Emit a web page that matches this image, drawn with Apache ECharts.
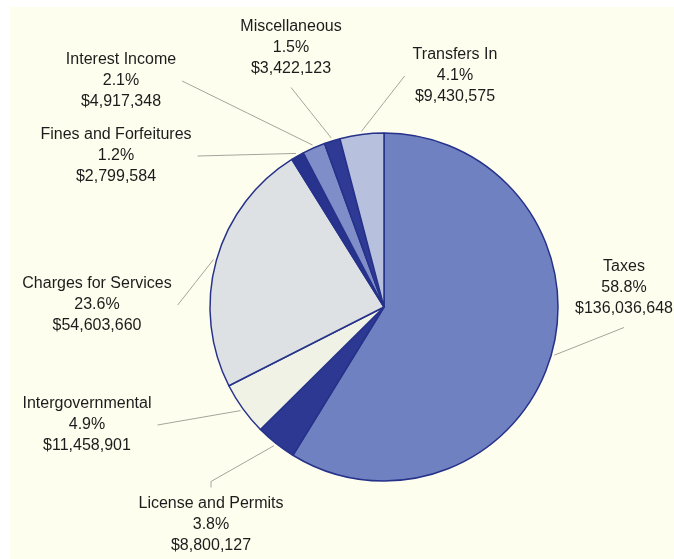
<!DOCTYPE html>
<html>
<head>
<meta charset="utf-8">
<script src="https://cdn.jsdelivr.net/npm/echarts@6/dist/echarts.min.js"></script>
<style>
  html, body { margin: 0; padding: 0; background: #ffffff; }
  #paper { position: absolute; left: 10px; top: 7px; width: 664px; height: 552px; background: #fefeef; }
  #chart { position: absolute; left: 0; top: 0; width: 674px; height: 559px; }
</style>
</head>
<body>
<div id="paper"></div>
<div id="chart"></div>
<script>
// revenue sources, clockwise from 12 o'clock
var categories = ["Taxes", "License and Permits", "Intergovernmental", "Charges for Services",
  "Fines and Forfeitures", "Interest Income", "Miscellaneous", "Transfers In"];
var amounts = [136036648, 8800127, 11458901, 54603660, 2799584, 4917348, 3422123, 9430575];
var percents = [58.8, 3.8, 4.9, 23.6, 1.2, 2.1, 1.5, 4.1];

var sliceColors = ["#7081c1", "#2c3891", "#f1f2e6", "#dde1e4", "#27338c", "#7f8ec8", "#2e3a93", "#b7c1de"];

// label block: centre x, centre of first line y, where the leader line meets it
var labelPos = [[624, 267], [211, 504], [87, 404], [97, 284], [116, 135], [121, 60], [291, 27], [455, 55]];
var attach = ["b", "t", "r", "r", "r", "r", "b", "l"];

function money(v) {
  return "$" + String(v).replace(/\B(?=(\d{3})+(?!\d))/g, ",");
}

var chartDom = document.getElementById("chart");
var myChart = echarts.init(chartDom, null, { renderer: "canvas" });
var option = {
  backgroundColor: "transparent",
  animation: false,
  series: [
    {
      type: "pie",
      center: [384, 307],
      radius: 174,
      startAngle: 90,
      clockwise: true,
      avoidLabelOverlap: false,
      emphasis: { disabled: true },
      itemStyle: { borderColor: "#26328a", borderWidth: 1.5 },
      label: {
        show: true,
        position: "outside",
        color: "#1c1c1c",
        fontFamily: "Liberation Sans",
        fontSize: 16,
        lineHeight: 21,
        align: "center",
        formatter: function (p) {
          var i = p.dataIndex;
          return categories[i] + "\n" + percents[i].toFixed(1) + "%\n" + money(amounts[i]);
        }
      },
      labelLine: { show: true, length: 10, length2: 10, lineStyle: { color: "#a4a49a", width: 1 } },
      labelLayout: function (p) {
        var i = p.dataIndex;
        var pos = labelPos[i];
        var w = p.labelRect.width, h = p.labelRect.height;
        var left = pos[0] - w / 2, top = pos[1] - 10.5;
        var s = p.labelLinePoints ? p.labelLinePoints[0] : null;
        var pts;
        if (s) {
          // start just outside the rim
          var dx = s[0] - 384, dy = s[1] - 307, d = Math.sqrt(dx * dx + dy * dy);
          var start = [s[0] + dx / d * 3, s[1] + dy / d * 3];
          var end;
          if (attach[i] === "r") end = [left + w + 6, top + 31.5];
          else if (attach[i] === "l") end = [left - 8, top + 31.5];
          else if (attach[i] === "b") end = [pos[0], top + h + 8];
          else end = [pos[0], top - 6];
          if (attach[i] === "t") pts = [start, [pos[0], top - 12], end];
          else pts = [start, [(start[0] + end[0]) / 2, (start[1] + end[1]) / 2], end];
        }
        var out = { x: pos[0], y: top, align: "center", verticalAlign: "top" };
        if (pts) out.labelLinePoints = pts;
        return out;
      },
      data: categories.map(function (c, i) {
        return { name: c, value: amounts[i], itemStyle: { color: sliceColors[i] } };
      })
    }
  ]
};
option && myChart.setOption(option);
</script>
</body>
</html>
